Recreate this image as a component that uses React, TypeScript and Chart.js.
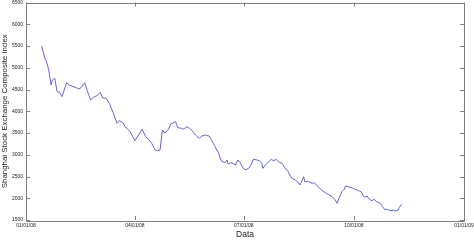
import React, { useEffect, useRef } from "react";
import { Chart, registerables } from "chart.js";

Chart.register(...registerables);

// Day offsets from 01/01/08 and index values
const dayOfYear = [
  13, 16, 17, 19, 21, 22, 24, 26, 28, 30, 34, 36, 42, 44, 46, 49, 51, 54, 57, 59,
  62, 64, 67, 70, 73, 76, 78, 81, 83, 85, 87, 88, 91, 94, 97, 100, 103, 105, 108, 110,
  112, 114, 116, 119, 121, 125, 127, 130, 132, 134, 136, 139, 140, 143, 145, 147, 150, 153, 155, 158,
  161, 163, 166, 168, 169, 171, 173, 175, 177, 179, 181, 183, 186, 188, 190, 193, 195, 197, 198, 200,
  202, 205, 207, 209, 211, 214, 216, 219, 222, 225, 227, 229, 232, 233, 236, 239, 241, 244, 247, 250,
  252, 255, 258, 260, 262, 264, 266, 267, 269, 272, 275, 278, 280, 282, 283, 285, 287, 289, 291, 293,
  296, 298, 300, 301, 303, 305, 307, 309, 311, 312, 314,
];
const indexValues = [
  5500, 5195, 5155, 4949, 4604, 4719, 4758, 4450, 4436, 4335, 4657, 4604, 4542, 4512, 4542, 4657, 4489, 4259, 4335, 4351,
  4436, 4312, 4298, 4160, 3953, 3723, 3783, 3737, 3645, 3585, 3530, 3477, 3323, 3454, 3585, 3415, 3339, 3263, 3109, 3093,
  3109, 3569, 3493, 3585, 3707, 3760, 3622, 3608, 3585, 3645, 3622, 3553, 3507, 3415, 3378, 3431, 3454, 3431, 3339, 3185,
  3033, 2863, 2817, 2879, 2787, 2817, 2803, 2764, 2879, 2817, 2711, 2649, 2688, 2764, 2895, 2879, 2863, 2803, 2688, 2764,
  2817, 2895, 2863, 2895, 2840, 2803, 2711, 2611, 2459, 2420, 2381, 2305, 2496, 2381, 2381, 2343, 2358, 2266, 2190, 2128,
  2098, 2052, 1976, 1884, 2036, 2151, 2206, 2282, 2266, 2243, 2206, 2174, 2151, 2052, 2022, 2052, 1976, 1944, 1976, 1921,
  1884, 1806, 1730, 1746, 1730, 1714, 1730, 1707, 1730, 1792, 1861,
];
const xTickDays = [0, 91, 182, 274, 366];
const xTickLabels = ["01/01/08", "04/01/08", "07/01/08", "10/01/08", "01/01/09"];
const yMin = 1500;
const yMax = 6500;
const yStep = 500;

const AXIS_COLOR = "#7f7f7f";
const FONT = "'Liberation Sans', Arial, sans-serif";

const framePlugin = {
  id: "frameTicks",
  afterDraw(chart: any) {
    const { ctx, chartArea } = chart;
    const { left, right, top, bottom } = chartArea;
    const xs = chart.scales.x;
    const ys = chart.scales.y;
    const tl = 4;
    ctx.save();
    ctx.strokeStyle = AXIS_COLOR;
    ctx.lineWidth = 1;
    ctx.beginPath();
    ctx.rect(Math.round(left) + 0.5, Math.round(top) + 0.5, Math.round(right - left), Math.round(bottom - top));
    ctx.stroke();
    ctx.beginPath();
    xs.ticks.forEach((t: any) => {
      const px = Math.round(xs.getPixelForValue(t.value)) + 0.5;
      ctx.moveTo(px, bottom);
      ctx.lineTo(px, bottom - tl);
      ctx.moveTo(px, top);
      ctx.lineTo(px, top + tl);
    });
    ys.ticks.forEach((t: any) => {
      const py = Math.round(ys.getPixelForValue(t.value)) + 0.5;
      ctx.moveTo(left, py);
      ctx.lineTo(left + tl, py);
      ctx.moveTo(right, py);
      ctx.lineTo(right - tl, py);
    });
    ctx.stroke();
    ctx.restore();
  },
};

export default function App() {
  const ref = useRef<HTMLCanvasElement | null>(null);
  useEffect(() => {
    document.body.style.margin = "0";
    if (!ref.current) return;
    const points = dayOfYear.map((d, i) => ({ x: d, y: indexValues[i] }));
    const chart = new Chart(ref.current, {
      type: "line",
      data: {
        datasets: [
          {
            data: points,
            borderColor: "#6464d2",
            borderWidth: 1,
            pointRadius: 0,
            tension: 0,
            fill: false,
          },
        ],
      },
      options: {
        animation: false,
        responsive: false,
        devicePixelRatio: 1,
        layout: { padding: { top: 2.5, right: 10, left: 0, bottom: 0 } },
        plugins: { legend: { display: false }, tooltip: { enabled: false } },
        scales: {
          x: {
            type: "linear",
            min: 0,
            max: 366,
            grid: { display: false, drawTicks: false, tickLength: 0 },
            border: { display: false },
            afterBuildTicks: (scale: any) => {
              scale.ticks = xTickDays.map((v) => ({ value: v }));
            },
            afterFit: (scale: any) => {
              scale.height = 20;
              scale.paddingLeft = 0;
              scale.paddingRight = 0;
            },
            ticks: {
              autoSkip: false,
              maxRotation: 0,
              padding: 3,
              color: "#222",
              font: { family: FONT, size: 5 },
              callback: (v: any) => {
                const i = xTickDays.indexOf(Number(v));
                return i >= 0 ? xTickLabels[i] : "";
              },
            },
            title: {
              display: true,
              text: "Data",
              color: "#222",
              font: { family: FONT, size: 8.5 },
              padding: { top: 0, bottom: 0 },
            },
          },
          y: {
            min: yMin,
            max: yMax,
            grid: { display: false, drawTicks: false, tickLength: 0 },
            border: { display: false },
            afterFit: (scale: any) => {
              scale.width = 26;
              scale.paddingTop = 0;
              scale.paddingBottom = 0;
            },
            ticks: {
              stepSize: yStep,
              padding: 3,
              color: "#222",
              font: { family: FONT, size: 5 },
              callback: (v: any) => String(v),
            },
            title: {
              display: true,
              text: "Shanghai Stock Exchange Composite Index",
              color: "#222",
              font: { family: FONT, size: 7.9 },
              padding: { top: 0, bottom: 0 },
            },
          },
        },
      },
      plugins: [framePlugin],
    });
    return () => chart.destroy();
  }, []);
  return (
    <div style={{ width: 474, height: 240 }}>
      <canvas ref={ref} width={474} height={240} />
    </div>
  );
}
